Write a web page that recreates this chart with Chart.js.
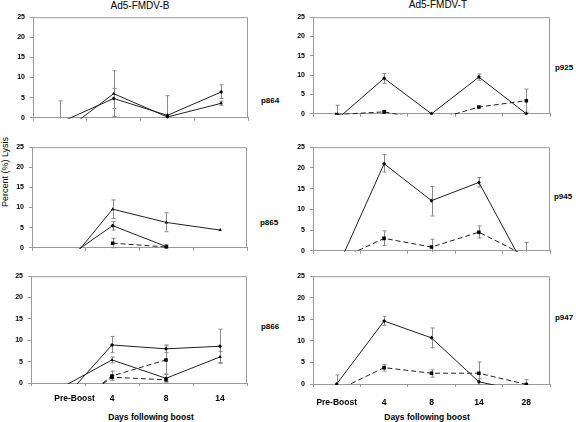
<!DOCTYPE html>
<html><head><meta charset="utf-8">
<script src="https://cdn.jsdelivr.net/npm/chart.js@4/dist/chart.umd.min.js"></script>
<style>
body{margin:0;background:#fff;width:576px;height:422px;position:relative;overflow:hidden;font-family:"Liberation Sans",Arial,sans-serif;}
.t{position:absolute;white-space:nowrap;color:#000;line-height:1;transform:translate(-50%,-50%);}
canvas{position:absolute;}
</style></head><body>
<div class="t" style="left:140px;top:6px;font-size:10px;">Ad5-FMDV-B</div>
<div class="t" style="left:438px;top:5px;font-size:10px;">Ad5-FMDV-T</div>
<div class="t" style="left:5px;top:172px;font-size:9px;transform:translate(-50%,-50%) rotate(-90deg);">Percent (%) Lysis</div>
<div class="t" style="left:270px;top:101px;font-size:8px;font-weight:bold;">p864</div>
<div class="t" style="left:564px;top:68px;font-size:8px;font-weight:bold;">p925</div>
<div class="t" style="left:269px;top:223px;font-size:8px;font-weight:bold;">p865</div>
<div class="t" style="left:563px;top:197px;font-size:8px;font-weight:bold;">p945</div>
<div class="t" style="left:270px;top:327px;font-size:8px;font-weight:bold;">p866</div>
<div class="t" style="left:564px;top:318px;font-size:8px;font-weight:bold;">p947</div>
<div class="t" style="left:151px;top:417px;font-size:8.5px;font-weight:bold;">Days following boost</div>
<div class="t" style="left:427px;top:417px;font-size:8.5px;font-weight:bold;">Days following boost</div>
<canvas id="c1"></canvas><canvas id="c2"></canvas><canvas id="c3"></canvas>
<canvas id="c4"></canvas><canvas id="c5"></canvas><canvas id="c6"></canvas>
<script>
// ---- categories ----
const daysB = ['Pre-Boost', '4', '8', '14'];
const daysT = ['Pre-Boost', '4', '8', '14', '28'];
const yTickMin = 0, yTickMax = 25, yTickStep = 5;

// ---- Ad5-FMDV-B ----
const p864_a = [-1.2, 4.8, 0.6, 6.4];
const p864_a_err = [null, [2.3, 7.3], null, [4.8, 8.2]];
const p864_b = [-4.2, 6.0, 0.2, 3.6];
const p864_b_err = [[-12.6, 4.2], [0.3, 11.7], [-5.1, 5.5], [3.1, 4.1]];

const p865_a = [-6.7, 9.6, 6.3, 4.4];
const p865_a_err = [null, [7.3, 11.9], [4.0, 8.7], null];
const p865_b = [-3.8, 5.5, 0.3, null];
const p865_b_err = [null, [4.4, 6.5], [0, 0.8], null];
const p865_c = [null, 1.15, 0.2, null];
const p865_c_err = [null, [0, 2.3], null, null];

const p866_a = [-5.2, 8.9, 8.0, 8.6];
const p866_a_err = [null, [7.1, 10.9], [7.1, 8.9], [4.6, 12.6]];
const p866_b = [-1.5, 5.4, 1.1, 6.1];
const p866_b_err = [null, [4.7, 6.1], [0.3, 2.0], [4.8, 7.4]];
const p866_c = [-8, 1.65, 5.4, null];
const p866_c_err = [null, [0.6, 2.8], [2.1, 8.7], null];
const p866_d = [-8, 1.35, 0.75, null];
const p866_d_err = [null, [1.0, 1.7], [0.2, 1.3], null];

// ---- Ad5-FMDV-T ----
const p925_a = [-1.5, 9.2, 0, 9.5, 0];
const p925_a_err = [[-5.2, 2.2], [7.9, 10.4], null, [8.7, 10.3], null];
const p925_b = [-0.2, 0.5, -1.8, 1.75, 3.4];
const p925_b_err = [null, [0.2, 0.8], null, null, [0.4, 6.4]];

const p945_a = [-4.5, 21, 12.1, 16.5, -4.7];
const p945_a_err = [null, [19.0, 23.2], [8.4, 15.5], [15.4, 17.7], null];
const p945_b = [-2.35, 3.0, 0.9, 4.5, -1.3];
const p945_b_err = [null, [1.3, 4.8], [-1, 2.8], [3.1, 6.0], [-5, 2.0]];

const p947_a = [0, 14.6, 10.7, 0.5, -1.8];
const p947_a_err = [[-2.1, 2.1], [13.6, 15.7], [8.4, 13.0], [-0.2, 1.2], null];
const p947_b = [-1.55, 3.8, 2.5, 2.5, -0.1];
const p947_b_err = [null, [3.0, 4.5], [1.6, 3.3], [-0.1, 5.1], [-1.2, 1.0]];

Chart.defaults.font.family = '"Liberation Sans", Arial, sans-serif';
const GRAY = '#9a9a9a';

const errPlugin = {
  id: 'errBars',
  beforeDatasetsDraw(chart) {
    const ctx = chart.ctx, a = chart.chartArea, ys = chart.scales.y;
    ctx.save();
    ctx.beginPath(); ctx.rect(a.left, a.top, a.right - a.left, a.bottom - a.top + 1); ctx.clip();
    ctx.strokeStyle = '#8a8a8a'; ctx.lineWidth = 1;
    chart.data.datasets.forEach((ds, di) => {
      if (!ds.errs) return;
      const meta = chart.getDatasetMeta(di);
      ds.errs.forEach((e, i) => {
        if (!e) return;
        const x = Math.round(chart.scales.x.getPixelForValue(i)) + 0.5;
        const y1 = ys.getPixelForValue(e[0]), y2 = ys.getPixelForValue(e[1]);
        ctx.beginPath();
        ctx.moveTo(x, y1); ctx.lineTo(x, y2);
        ctx.moveTo(x - 2, y1); ctx.lineTo(x + 2, y1);
        ctx.moveTo(x - 2, y2); ctx.lineTo(x + 2, y2);
        ctx.stroke();
      });
    });
    ctx.restore();
  }
};
const framePlugin = {
  id: 'frame',
  afterDraw(chart) {
    const ctx = chart.ctx, a = chart.chartArea;
    ctx.save(); ctx.strokeStyle = GRAY; ctx.lineWidth = 1;
    ctx.beginPath();
    ctx.moveTo(a.left, a.top + 0.5); ctx.lineTo(a.right - 0.5, a.top + 0.5); ctx.lineTo(a.right - 0.5, a.bottom);
    ctx.stroke(); ctx.restore();
  }
};

function ds(data, errs, dashed, shape) {
  return {
    data, errs,
    borderColor: '#222', borderWidth: 1,
    borderDash: dashed ? [5, 3] : [],
    pointStyle: shape, pointRadius: shape === 'rect' ? 2.5 : 2,
    pointBackgroundColor: '#000', pointBorderColor: '#000', pointBorderWidth: 0,
    spanGaps: false, tension: 0, clip: 1
  };
}

function panel(id, box, labels, datasets, showX, xPad, tickLabels) {
  const yW = 30, padTop = 6, padRight = 2;
  const xH = showX ? 34 : 4;
  const cv = document.getElementById(id);
  const W = (box.x1 - box.x0) + yW + padRight;
  const H = (box.y1 - box.y0) + padTop + xH;
  cv.width = W; cv.height = H;
  cv.style.left = (box.x0 - yW) + 'px'; cv.style.top = (box.y0 - padTop) + 'px';
  cv.style.width = W + 'px'; cv.style.height = H + 'px';
  new Chart(cv, {
    type: 'line',
    data: { labels, datasets },
    options: {
      responsive: false, animation: false, devicePixelRatio: 1,
      layout: { padding: { top: padTop, right: padRight, left: 0, bottom: 0 } },
      plugins: { legend: { display: false }, tooltip: { enabled: false } },
      scales: {
        x: {
          type: 'category', offset: true,
          grid: { offset: true, drawOnChartArea: false, drawTicks: true, tickLength: 3, color: GRAY },
          border: { color: GRAY, width: 1 },
          ticks: {
            display: showX, padding: xPad, maxRotation: 0, autoSkip: false,
            color: '#000', font: { size: 8.5, weight: 'bold' },
            callback: (v, i) => tickLabels ? tickLabels[i] : labels[i]
          },
          afterFit: s => { s.height = xH; }
        },
        y: {
          min: yTickMin, max: yTickMax,
          ticks: { stepSize: yTickStep, padding: 5, color: '#000', font: { size: 7, weight: 'bold' } },
          grid: { drawOnChartArea: false, tickLength: 3, color: GRAY },
          border: { color: GRAY, width: 1 },
          afterFit: s => { s.width = yW; }
        }
      }
    },
    plugins: [errPlugin, framePlugin]
  });
}

const leftBottomLabels = daysB.map((d, i) => i === 0 ? ' '.repeat(14) + d : d);

panel('c1', { x0: 33, x1: 250, y0: 14, y1: 123 }, daysB, [
  ds(p864_a, p864_a_err, false, 'rectRot'),
  ds(p864_b, p864_b_err, false, 'triangle')
], false, 0);
panel('c2', { x0: 32, x1: 249, y0: 144, y1: 253 }, daysB, [
  ds(p865_a, p865_a_err, false, 'triangle'),
  ds(p865_b, p865_b_err, false, 'rectRot'),
  ds(p865_c, p865_c_err, true, 'rect')
], false, 0);
panel('c3', { x0: 31, x1: 249, y0: 273, y1: 383 }, daysB, [
  ds(p866_a, p866_a_err, false, 'rectRot'),
  ds(p866_b, p866_b_err, false, 'triangle'),
  ds(p866_c, p866_c_err, true, 'rect'),
  ds(p866_d, p866_d_err, true, 'rect')
], true, 8, leftBottomLabels);
panel('c4', { x0: 313, x1: 552, y0: 14, y1: 119 }, daysT, [
  ds(p925_a, p925_a_err, false, 'rectRot'),
  ds(p925_b, p925_b_err, true, 'rect')
], false, 0);
panel('c5', { x0: 313, x1: 552, y0: 144, y1: 256 }, daysT, [
  ds(p945_a, p945_a_err, false, 'rectRot'),
  ds(p945_b, p945_b_err, true, 'rect')
], false, 0);
panel('c6', { x0: 313, x1: 552, y0: 273, y1: 384 }, daysT, [
  ds(p947_a, p947_a_err, false, 'rectRot'),
  ds(p947_b, p947_b_err, true, 'rect')
], true, 11);
</script>
</body></html>
